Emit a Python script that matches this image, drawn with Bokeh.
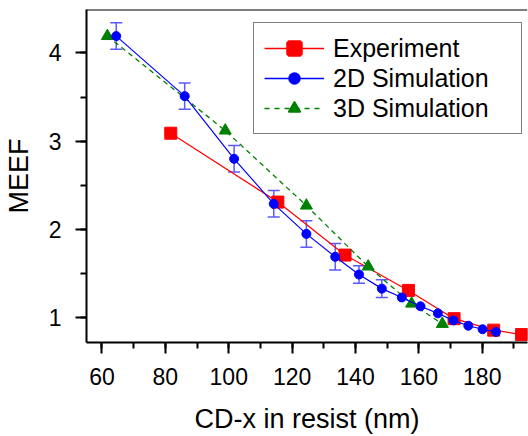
from bokeh.plotting import figure
from bokeh.models import (Range1d, SingleIntervalTicker, Legend, LegendItem,
                          Whisker, TeeHead, ColumnDataSource, Span)
from bokeh.embed import file_html
from bokeh.resources import INLINE

# ---- data ----
exp_x = [81.7, 115.5, 136.7, 156.7, 171.1, 183.6, 192.4]
exp_y = [3.09, 2.31, 1.71, 1.31, 0.99, 0.86, 0.81]

sim2d_x = [64.5, 86.1, 101.7, 114.2, 124.5, 133.6, 141.1, 148.3,
           154.6, 160.5, 166.0, 170.9, 175.6, 180.1, 184.3]
sim2d_y = [4.19, 3.51, 2.80, 2.29, 1.95, 1.69, 1.49, 1.33,
           1.23, 1.13, 1.05, 0.97, 0.91, 0.87, 0.84]
sim2d_err = [0.15, 0.15, 0.15, 0.15, 0.15, 0.15, 0.10, 0.10,
             0.0, 0.0, 0.0, 0.0, 0.0, 0.0, 0.0]

sim3d_x = [61.7, 98.9, 124.5, 144.0, 157.7, 167.4]
sim3d_y = [4.19, 3.12, 2.27, 1.58, 1.16, 0.93]

series_names = ["Experiment", "2D Simulation", "3D Simulation"]
x_label = "CD-x in resist (nm)"
y_label = "MEEF"

FONT = "Liberation Sans"
RED, BLUE, GREEN = "#ff0000", "#0000ff", "#008000"
Y_TOP = 4.491

p = figure(width=528, height=436, output_backend="svg", toolbar_location=None,
           x_range=Range1d(55.12, 194.27), y_range=Range1d(0.720, Y_TOP),
           min_border_left=82, min_border_right=1, min_border_top=9, min_border_bottom=94)
p.xgrid.visible = False
p.ygrid.visible = False
p.outline_line_color = None
p.background_fill_color = "white"
p.border_fill_color = "white"

# axes styling
for ax in (p.xaxis[0], p.yaxis[0]):
    ax.axis_line_width = 2
    ax.major_tick_line_width = 2
    ax.minor_tick_line_width = 2
    ax.major_tick_in = 0
    ax.major_tick_out = 11
    ax.minor_tick_in = 0
    ax.minor_tick_out = 6
    ax.major_label_text_font = FONT
    ax.major_label_text_font_size = "23px"
    ax.major_label_text_color = "black"
    ax.axis_label_text_font = FONT
    ax.axis_label_text_font_size = "27px"
    ax.axis_label_text_font_style = "normal"
    ax.axis_label_text_color = "black"

p.xaxis[0].ticker = SingleIntervalTicker(interval=20, num_minor_ticks=2)
p.yaxis[0].ticker = SingleIntervalTicker(interval=1, num_minor_ticks=2)
p.xaxis[0].axis_label = x_label
p.yaxis[0].axis_label = y_label
p.xaxis[0].major_label_standoff = 14
p.xaxis[0].axis_label_standoff = 16
p.yaxis[0].major_label_standoff = 14
p.yaxis[0].axis_label_standoff = 12

# top frame line
p.add_layout(Span(location=Y_TOP, dimension="width", line_color="black", line_width=2))

# error bars (2D simulation)
ex = [x for x, e in zip(sim2d_x, sim2d_err) if e > 0]
ey = [y for y, e in zip(sim2d_y, sim2d_err) if e > 0]
ee = [e for e in sim2d_err if e > 0]
err_src = ColumnDataSource(dict(x=ex, lower=[y - e for y, e in zip(ey, ee)],
                                upper=[y + e for y, e in zip(ey, ee)]))
ERR_C = "#5a5aff"
wh = Whisker(source=err_src, base="x", lower="lower", upper="upper", dimension="height",
             line_color=ERR_C, line_width=1.5,
             upper_head=TeeHead(size=12, line_color=ERR_C, line_width=1.5),
             lower_head=TeeHead(size=12, line_color=ERR_C, line_width=1.5))
p.add_layout(wh)

# series
r_exp_l = p.line(exp_x, exp_y, line_color=RED, line_width=1.2)
r_exp_m = p.scatter(exp_x, exp_y, marker="square", size=12, fill_color=RED, line_color=RED)

r_3d_l = p.line(sim3d_x, sim3d_y, line_color=GREEN, line_width=1.3, line_dash="5 4")
r_3d_m = p.scatter(sim3d_x, sim3d_y, marker="triangle", size=12, fill_color=GREEN, line_color=GREEN)

r_2d_l = p.line(sim2d_x, sim2d_y, line_color=BLUE, line_width=1.2)
r_2d_m = p.scatter(sim2d_x, sim2d_y, marker="circle", size=9, fill_color=BLUE, line_color=BLUE)

# legend-only glyphs (drawn larger in the legend, as in the reference); no visible points
nan = float("nan")
lg_exp_l = p.line(x=[nan, nan], y=[nan, nan], line_color=RED, line_width=1.5)
lg_2d_l = p.line(x=[nan, nan], y=[nan, nan], line_color=BLUE, line_width=1.5)
lg_3d_l = p.line(x=[nan, nan], y=[nan, nan], line_color=GREEN, line_width=1.5, line_dash="5 5")
lg_exp = p.scatter(x=[nan], y=[nan], marker="square", size=16, fill_color=RED,
                   line_color=RED, line_width=4.5)
lg_2d = p.scatter(x=[nan], y=[nan], marker="circle", size=11, fill_color=BLUE,
                  line_color=BLUE, line_width=0.5)
lg_3d = p.scatter(x=[nan], y=[nan], marker="triangle", size=13, fill_color=GREEN,
                  line_color=GREEN, line_width=1.5)

legend = Legend(items=[
    LegendItem(label=series_names[0], renderers=[lg_exp_l, lg_exp], index=0),
    LegendItem(label=series_names[1], renderers=[lg_2d_l, lg_2d], index=0),
    LegendItem(label=series_names[2], renderers=[lg_3d_l, lg_3d], index=0),
], location=(167, 208))
legend.border_line_color = "black"
legend.border_line_width = 1
legend.background_fill_color = "white"
legend.background_fill_alpha = 1
legend.padding = 10
legend.spacing = 0
legend.margin = 0
legend.glyph_width = 60
legend.glyph_height = 30
legend.label_height = 30
legend.label_width = 178
legend.label_standoff = 9
legend.label_text_font = FONT
legend.label_text_font_size = "25px"
legend.label_text_color = "black"
p.add_layout(legend)

open("out.html", "w").write(file_html(p, INLINE))
